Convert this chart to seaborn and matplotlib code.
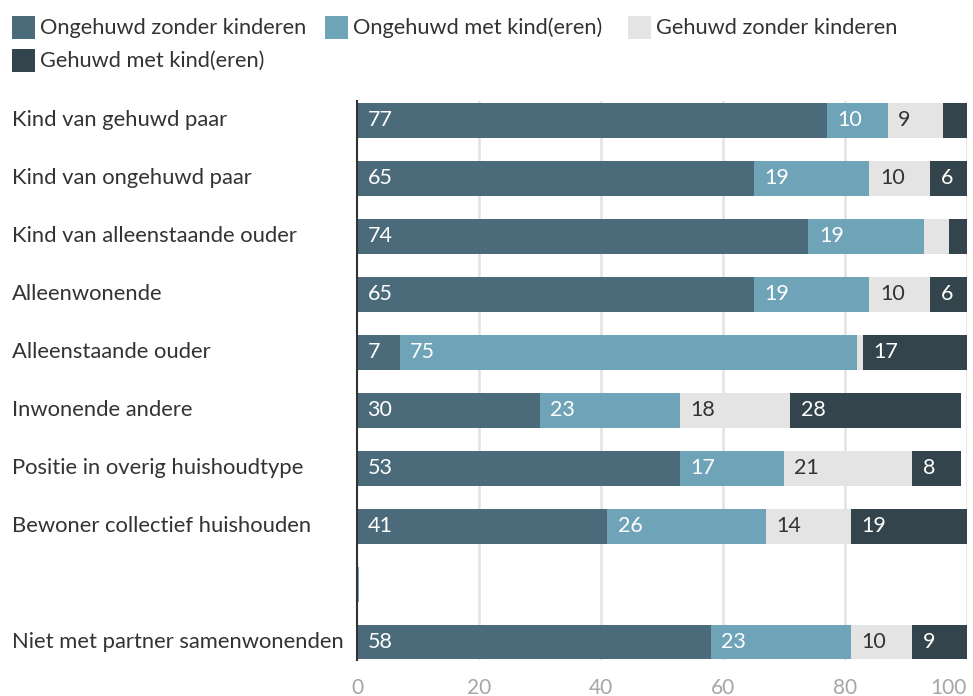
import numpy as np
import pandas as pd
import matplotlib
matplotlib.use("Agg")
import matplotlib.pyplot as plt
from matplotlib.patches import Rectangle
import seaborn as sns

categories = [
    "Kind van gehuwd paar",
    "Kind van ongehuwd paar",
    "Kind van alleenstaande ouder",
    "Alleenwonende",
    "Alleenstaande ouder",
    "Inwonende andere",
    "Positie in overig huishoudtype",
    "Bewoner collectief huishouden",
    " ",
    "Niet met partner samenwonenden",
]
series_names = [
    "Ongehuwd zonder kinderen",
    "Ongehuwd met kind(eren)",
    "Gehuwd zonder kinderen",
    "Gehuwd met kind(eren)",
]
ongehuwd_zonder = [77, 65, 74, 65, 7, 30, 53, 41, 0, 58]
ongehuwd_met = [10, 19, 19, 19, 75, 23, 17, 26, 0.3, 23]
gehuwd_zonder = [9, 10, 4, 10, 1, 18, 21, 14, 0, 10]
gehuwd_met = [4, 6, 3, 6, 17, 28, 8, 19, 0, 9]

colors = ["#4b6b7b", "#6fa3b8", "#e4e4e4", "#34444c"]
text_colors = ["white", "white", "#333333", "white"]

df = pd.DataFrame({
    "categorie": categories,
    series_names[0]: ongehuwd_zonder,
    series_names[1]: ongehuwd_met,
    series_names[2]: gehuwd_zonder,
    series_names[3]: gehuwd_met,
})
cum = df[series_names].cumsum(axis=1)

sns.set_theme(style="white")
plt.rcParams["font.family"] = ["Lato", "DejaVu Sans"]

fig = plt.figure(figsize=(9.73, 6.96), dpi=100)
ax = fig.add_axes([357 / 973, 1 - 659.5 / 696, 610 / 973, 558.5 / 696])

# stacked bars: draw cumulative totals from the outermost segment inwards
for i in range(3, -1, -1):
    plot_df = pd.DataFrame({"categorie": categories, "waarde": cum[series_names[i]].values})
    sns.barplot(data=plot_df, y="categorie", x="waarde", color=colors[i],
                saturation=1, width=0.6, ax=ax, orient="h", zorder=3,
                linewidth=0, edgecolor="none")

# segment labels
for r in range(len(categories)):
    left = 0
    for i, s in enumerate(series_names):
        v = df[s].iloc[r]
        if v >= 5:
            ax.annotate(f"{v:g}", xy=(left, r), xytext=(7.5, 0), textcoords="offset points",
                        ha="left", va="center", color=text_colors[i], fontsize=15.5, zorder=5)
        left += v

ax.set_xlim(0, 100)
ax.set_ylim(9.3, -0.33)
ax.set_xlabel("")
ax.set_ylabel("")
ax.set_xticks([0, 20, 40, 60, 80, 100])
ax.set_xticklabels(["0", "20", "40", "60", "80", "100"], color="#a6a6a6", fontsize=15)
ax.get_xticklabels()[-1].set_ha("right")
ax.tick_params(axis="x", length=0, pad=13)
ax.tick_params(axis="y", length=0, pad=0)
ax.set_yticklabels([])
for r, c in enumerate(categories):
    ax.text(-345 / 6.1, r, c.strip(), ha="left", va="center", fontsize=15.8, color="#333333")

for x in [20, 40, 60, 80, 100]:
    ax.axvline(x, color="#e2e2e2", lw=1.8, zorder=1)
for sp in ["top", "right", "bottom"]:
    ax.spines[sp].set_visible(False)
ax.spines["left"].set_color("#333333")
ax.spines["left"].set_linewidth(1.5)
ax.spines["left"].set_zorder(6)

# legend
legend_items = [(12, 27, 0), (325, 27, 1), (628, 27, 2), (12, 60, 3)]
for x, y, i in legend_items:
    fig.patches.append(Rectangle((x / 973, 1 - (y + 11.5) / 696), 23 / 973, 23 / 696,
                                 transform=fig.transFigure, facecolor=colors[i], edgecolor="none"))
    fig.text((x + 28) / 973, 1 - (y + 1) / 696, series_names[i], ha="left", va="center",
             fontsize=15.7, color="#333333")

fig.savefig("out.png", dpi=100)
